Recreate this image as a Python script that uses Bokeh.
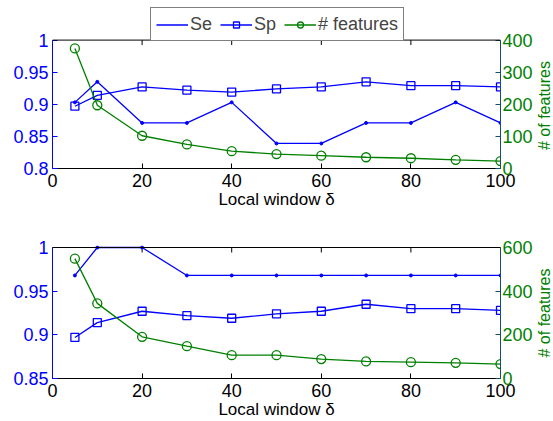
import math
from bokeh.plotting import figure
from bokeh.models import Range1d, LinearAxis, FixedTicker, Legend, LegendItem, Label, Span
from bokeh.layouts import column, row
from bokeh.embed import file_html
from bokeh.resources import INLINE

# ---------------- data ----------------
window = [5, 10, 20, 30, 40, 50, 60, 70, 80, 90, 100]

se_top = [0.903, 0.935, 0.871, 0.871, 0.903, 0.839, 0.839, 0.871, 0.871, 0.903, 0.871]
sp_top = [0.897, 0.914, 0.927, 0.922, 0.919, 0.924, 0.927, 0.935, 0.929, 0.929, 0.927]
feat_top = [374, 197, 102, 75, 54, 45, 40, 35, 32, 27, 23]

se_bot = [0.968, 1.0, 1.0, 0.968, 0.968, 0.968, 0.968, 0.968, 0.968, 0.968, 0.968]
sp_bot = [0.897, 0.914, 0.927, 0.922, 0.919, 0.924, 0.927, 0.935, 0.930, 0.930, 0.928]
feat_bot = [549, 344, 191, 148, 107, 107, 89, 78, 75, 72, 66]

x_ticks = [0, 20, 40, 60, 80, 100]
x_tick_labels = ["0", "20", "40", "60", "80", "100"]

top_left_ticks = [0.8, 0.85, 0.9, 0.95, 1.0]
top_left_labels = ["0.8", "0.85", "0.9", "0.95", "1"]
top_right_ticks = [0, 100, 200, 300, 400]

bot_left_ticks = [0.85, 0.9, 0.95, 1.0]
bot_left_labels = ["0.85", "0.9", "0.95", "1"]
bot_right_ticks = [0, 200, 400, 600]

series_names = ["Se", "Sp", "# features"]
x_label = "Local window δ"
right_label = "# of features"

# ---------------- style ----------------
BLUE = "#0000ff"
GREEN = "#008000"
RIGHT_LINE = "#10506a"
FONT = "Liberation Sans"
TICK_FS = "18px"
TICK_LEN = 5
PLOT_W = 535
STRIP_W = 18


def style_axis(ax, color, line_color):
    ax.major_tick_in = TICK_LEN
    ax.major_tick_out = 0
    ax.minor_tick_in = 0
    ax.minor_tick_out = 0
    ax.major_tick_line_color = line_color
    ax.axis_line_color = line_color
    ax.major_label_text_color = color
    ax.major_label_text_font = FONT
    ax.major_label_text_font_size = TICK_FS


def make_panel(se, sp, feat, ylo, yhi, fmax, lticks, llabels, rticks,
               height, top, bottom, pad):
    # pad = empty pixels kept inside the frame above the axes box
    h = height - top - bottom
    k = pad / (h - pad)
    p = figure(width=PLOT_W, height=height, output_backend="svg", toolbar_location=None,
               x_range=Range1d(0, 100), y_range=Range1d(ylo, yhi + (yhi - ylo) * k),
               min_border_left=52, min_border_right=PLOT_W - 502,
               min_border_top=top, min_border_bottom=bottom)
    p.extra_y_ranges = {"feat": Range1d(0, fmax * (1 + k))}
    p.grid.visible = False
    p.outline_line_color = None
    p.background_fill_color = "white"
    p.border_fill_color = "white"

    # bottom x axis
    xa = p.xaxis[0]
    xa.ticker = FixedTicker(ticks=x_ticks)
    xa.major_label_overrides = {t: s for t, s in zip(x_ticks, x_tick_labels)}
    style_axis(xa, "black", "black")
    xa.major_label_standoff = 5
    xa.axis_label = x_label
    xa.axis_label_text_font = FONT
    xa.axis_label_text_font_size = "17px"
    xa.axis_label_text_font_style = "normal"
    xa.axis_label_text_color = "black"
    xa.axis_label_standoff = 0

    # left y axis
    ya = p.yaxis[0]
    ya.ticker = FixedTicker(ticks=lticks)
    ya.major_label_overrides = {t: s for t, s in zip(lticks, llabels)}
    ya.bounds = (ylo, yhi)
    style_axis(ya, BLUE, BLUE)
    ya.major_label_standoff = 4

    # right y axis
    ra = LinearAxis(y_range_name="feat", ticker=FixedTicker(ticks=rticks), bounds=(0, fmax))
    style_axis(ra, GREEN, RIGHT_LINE)
    ra.major_label_standoff = 2
    p.add_layout(ra, "right")

    # top edge of the axes box, with inward tick marks
    p.add_layout(Span(location=yhi, dimension="width", line_color="black", line_width=1))
    d = (yhi - ylo) * TICK_LEN / (h - pad)
    p.segment(x0=x_ticks, y0=[yhi] * len(x_ticks), x1=x_ticks,
              y1=[yhi - d] * len(x_ticks), line_color="black", line_width=1)

    se_line = p.line(window, se, line_color=BLUE, line_width=1.3)
    p.scatter(window, se, marker="circle", size=3, color=BLUE)
    sp_line = p.line(window, sp, line_color=BLUE, line_width=1.3)
    sp_pts = p.scatter(window, sp, marker="square", size=8, line_color=BLUE,
                       fill_color=None, line_width=1.3)
    f_line = p.line(window, feat, line_color=GREEN, line_width=1.3, y_range_name="feat")
    f_pts = p.scatter(window, feat, marker="circle", size=9, line_color=GREEN,
                      fill_color=None, line_width=1.3, y_range_name="feat")
    return p, [(se_line,), (sp_line, sp_pts), (f_line, f_pts)]


def make_strip(height, top, bottom, pad):
    # narrow strip on the right carrying the rotated right-axis title
    s = figure(width=STRIP_W, height=height, output_backend="svg", toolbar_location=None,
               x_range=Range1d(0, 1), y_range=Range1d(0, height),
               min_border=0, x_axis_location=None, y_axis_location=None)
    s.grid.visible = False
    s.outline_line_color = None
    s.border_fill_color = "white"
    s.background_fill_color = "white"
    box_mid = bottom + (height - top - bottom - pad) / 2
    s.add_layout(Label(x=0.5, y=box_mid, text=right_label, angle=math.pi / 2,
                       text_align="center", text_baseline="middle", text_color=GREEN,
                       text_font=FONT, text_font_size="16px"))
    return s


H1, T1, B1, P1 = 211, 7, 41, 33
H2, T2, B2, P2 = 210, 34, 43, 2

p1, rends = make_panel(se_top, sp_top, feat_top, 0.8, 1.0, 400,
                       top_left_ticks, top_left_labels, top_right_ticks,
                       H1, T1, B1, P1)
p2, _ = make_panel(se_bot, sp_bot, feat_bot, 0.85, 1.0, 600,
                   bot_left_ticks, bot_left_labels, bot_right_ticks,
                   H2, T2, B2, P2)

items = [LegendItem(label=n, renderers=list(r)) for n, r in zip(series_names, rends)]
legend = Legend(items=items, orientation="horizontal",
                location=(98, H1 - T1 - B1 - 36),
                label_text_font=FONT, label_text_font_size="18px",
                glyph_width=32, glyph_height=15, label_height=22,
                label_standoff=2, spacing=8, padding=5, margin=0,
                border_line_color="black", border_line_width=1,
                background_fill_color="white", background_fill_alpha=1.0)
p1.add_layout(legend)

s1 = make_strip(H1, T1, B1, P1)
s2 = make_strip(H2, T2, B2, P2)

layout = row(column(p1, p2, spacing=0), column(s1, s2, spacing=0), spacing=0)
open("out.html", "w").write(file_html(layout, INLINE))
